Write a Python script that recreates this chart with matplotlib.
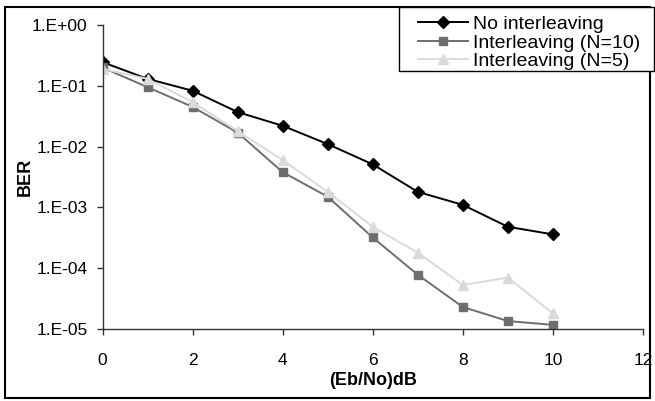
import matplotlib
matplotlib.use("Agg")
import matplotlib.pyplot as plt
from matplotlib.patches import Rectangle

plt.rcParams['font.family'] = ['Liberation Sans', 'DejaVu Sans']

snr = [0, 1, 2, 3, 4, 5, 6, 7, 8, 9, 10]
no_interleaving = [0.245, 0.13, 0.083, 0.037, 0.022, 0.011, 0.0051, 0.0018, 0.0011, 0.00048, 0.00036]
interleaving_n10 = [0.20, 0.095, 0.045, 0.017, 0.0038, 0.0015, 0.00032, 7.8e-5, 2.3e-5, 1.35e-5, 1.17e-5]
interleaving_n5 = [0.19, 0.13, 0.054, 0.018, 0.006, 0.0018, 0.00048, 0.00018, 5.3e-5, 7.0e-5, 1.8e-5]
xticks = [0, 2, 4, 6, 8, 10, 12]
yticks = [1e0, 1e-1, 1e-2, 1e-3, 1e-4, 1e-5]
ytick_labels = ["1.E+00", "1.E-01", "1.E-02", "1.E-03", "1.E-04", "1.E-05"]

W, H = 655, 401
fig = plt.figure(figsize=(W / 100, H / 100), dpi=100)
ax = fig.add_axes([102.5 / W, 1 - 329 / H, (643 - 102.5) / W, (329 - 25) / H])

ax.plot(snr, no_interleaving, color='black', lw=1.4, marker='D', ms=6,
        label='No interleaving')
ax.plot(snr, interleaving_n10, color='#6e6e6e', lw=1.4, marker='s', ms=5.8,
        label='Interleaving (N=10)')
ax.plot(snr, interleaving_n5, color='#dadada', lw=1.4, marker='^', ms=7.5,
        label='Interleaving (N=5)')

ax.set_yscale('log')
ax.set_ylim(1e-5, 1)
ax.set_xlim(0, 12)
ax.set_xticks(xticks)
ax.set_xticklabels([str(t) for t in xticks])
ax.set_yticks(yticks)
ax.set_yticklabels(ytick_labels)
ax.minorticks_off()
ax.tick_params(axis='both', direction='out', length=4.5, width=1, color='#333333',
               labelsize=12.5)
ax.tick_params(axis='y', pad=6.3)
ax.tick_params(axis='x', pad=13)
for s in ['top', 'right']:
    ax.spines[s].set_visible(False)
for s in ['left', 'bottom']:
    ax.spines[s].set_color('#333333')
    ax.spines[s].set_linewidth(1)

ax.set_xlabel('(Eb/No)dB', fontsize=13, fontweight='bold', labelpad=2.5)
ax.set_ylabel('BER', fontsize=13, fontweight='bold', labelpad=-1.3)

# outer chart border
fig.patches.append(Rectangle((5 / W, 1 - 398 / H), (650 - 5) / W, (398 - 7) / H,
                             transform=fig.transFigure, fill=False,
                             edgecolor='black', lw=1.5))
# legend frame
fig.patches.append(Rectangle((399 / W, 1 - 71 / H), (654 - 399) / W, (71 - 7) / H,
                             transform=fig.transFigure, facecolor='white',
                             edgecolor='black', lw=1, zorder=4))

leg = fig.legend(loc='upper left', bbox_to_anchor=(418 / W, 1 - 15.5 / H),
                 frameon=False, fontsize=14, borderpad=0,
                 labelspacing=0.05, handlelength=2.55, handletextpad=0.3,
                 borderaxespad=0)
leg.set_zorder(5)

fig.savefig('out.png', dpi=100)
